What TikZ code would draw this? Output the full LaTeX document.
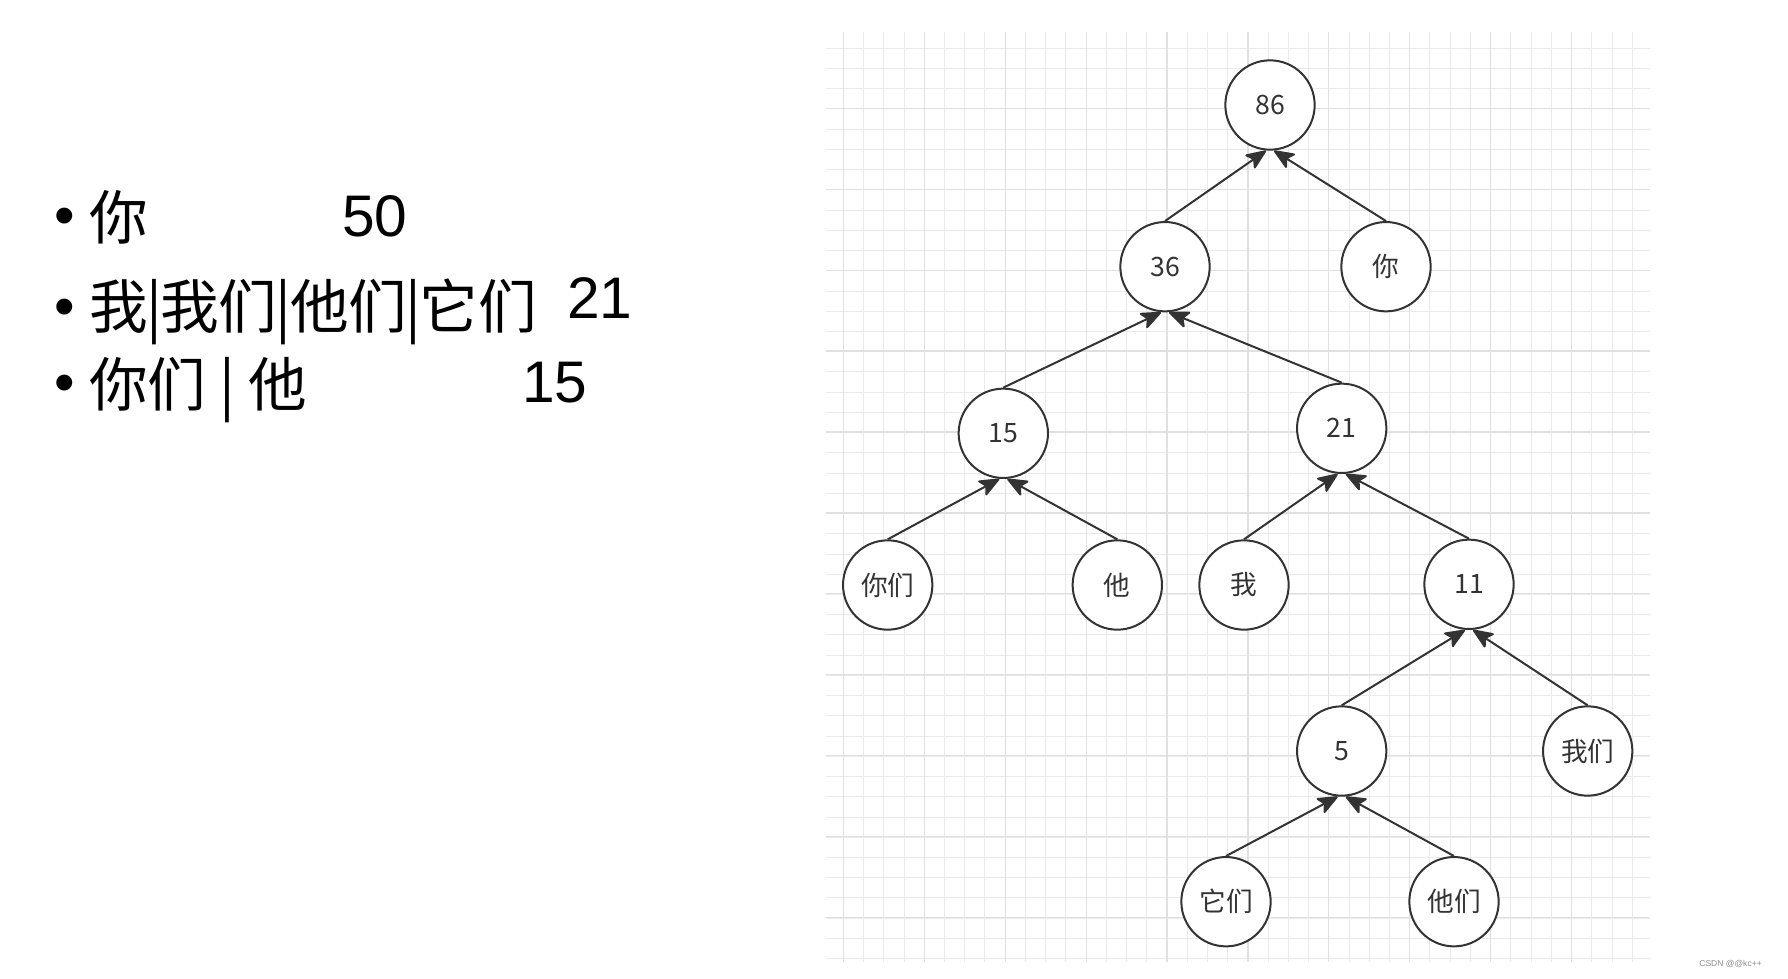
\documentclass[tikz,border=0pt]{standalone}
\usepackage{fontspec}
\setmainfont{Liberation Sans}
\newfontfamily\cjk{Noto Sans CJK SC}
\usetikzlibrary{arrows.meta}
\definecolor{gridminor}{HTML}{EAEAEA}
\definecolor{gridmajor}{HTML}{E0E0E0}
\definecolor{inkc}{HTML}{333333}
\newcommand{\vbar}{\kern-1.3pt|\kern-1.3pt}
\begin{document}
\begin{tikzpicture}[x=0.75pt,y=-0.75pt,
  treenode/.style={circle,draw=inkc,line width=1.5pt,fill=white,minimum size=67pt,inner sep=0pt,
    font=\cjk\fontsize{20}{24}\selectfont,text=inkc},
  link/.style={draw=inkc,line width=1.5pt,-{Stealth[length=17pt,width=14pt,inset=4pt,round]}},
  listtext/.style={inner sep=0pt,font=\fontsize{44}{52}\selectfont,text=black},
  listcjk/.style={listtext,font=\cjk\fontsize{44}{52}\selectfont},
]
\useasboundingbox (0,0) rectangle (1788,978);
\fill[white] (0,0) rectangle (1788,978);
% grid
\foreach \k in {0,...,45}
  \draw[gridminor,line width=0.75pt] (826,{48.3+20.23*\k}) -- (1650,{48.3+20.23*\k});
\foreach \k in {0,...,39}
  \draw[gridminor,line width=0.75pt] ({843.3+20.23*\k},31.7) -- ({843.3+20.23*\k},961.7);
\foreach \k in {0,...,10}
  \draw[gridmajor,line width=0.9pt] (826,{108.3+80.93*\k}) -- (1650,{108.3+80.93*\k});
\foreach \k in {0,...,9}
  \draw[gridmajor,line width=0.9pt] ({843.3+80.93*\k},31.7) -- ({843.3+80.93*\k},961.7);

% tree nodes
\node[treenode] (n86) at (1270,105) {86};
\node[treenode] (n36) at (1165,266.7) {36};
\node[treenode] (nni) at (1386,266.7) {你};
\node[treenode] (n15) at (1003.3,433.3) {15};
\node[treenode] (n21) at (1341.7,428.3) {21};
\node[treenode] (nnimen) at (887.7,585) {你们};
\node[treenode] (nta) at (1117.3,585) {他};
\node[treenode] (nwo) at (1244,585) {我};
\node[treenode] (n11) at (1469,584.3) {11};
\node[treenode] (n5) at (1341.7,751) {5};
\node[treenode] (nwomen) at (1587.7,751) {我们};
\node[treenode] (ntamen) at (1226,901.7) {它们};
\node[treenode] (ntamen2) at (1454,901.7) {他们};

% edges
\draw[link] (n36.north) -- ([xshift=-3pt]n86.south);
\draw[link] (nni.north) -- ([xshift=3pt]n86.south);
\draw[link] (n15.north) -- ([xshift=-3pt]n36.south);
\draw[link] (n21.north) -- ([xshift=3pt]n36.south);
\draw[link] (nnimen.north) -- ([xshift=-3pt]n15.south);
\draw[link] (nta.north) -- ([xshift=3pt]n15.south);
\draw[link] (nwo.north) -- ([xshift=-3pt]n21.south);
\draw[link] (n11.north) -- ([xshift=3pt]n21.south);
\draw[link] (n5.north) -- ([xshift=-3pt]n11.south);
\draw[link] (nwomen.north) -- ([xshift=3pt]n11.south);
\draw[link] (ntamen.north) -- ([xshift=-3pt]n5.south);
\draw[link] (ntamen2.north) -- ([xshift=3pt]n5.south);

% left list
\node[listtext,anchor=base] (b1) at (65,235) {•};
\node[listcjk,anchor=base west] (t1) at (89,239) {你};
\node[listtext,anchor=base west] (v1) at (342,236) {50};
\node[listtext,anchor=base] (b2) at (65,326) {•};
\node[listcjk,anchor=base west] (t2) at (89,328) {我\vbar 我们\vbar 他们\vbar 它们};
\node[listtext,anchor=base west] (v2) at (567,318) {21};
\node[listtext,anchor=base] (b3) at (65,402) {•};
\node[listcjk,anchor=base west] (t3) at (89,406) {你们 | 他};
\node[listtext,anchor=base west] (v3) at (522,402) {15};

% watermark
\node[font=\fontsize{6.4}{8}\selectfont,text=black!45,anchor=east,inner sep=0pt] (wm) at (1762,964) {CSDN @@kc++};
\end{tikzpicture}
\end{document}
